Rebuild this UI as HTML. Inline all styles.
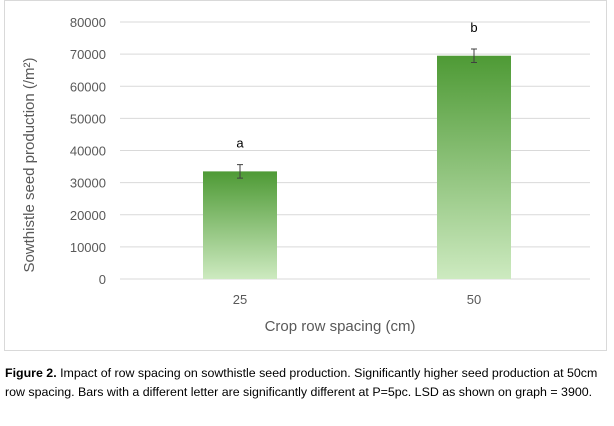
<!DOCTYPE html>
<html><head><meta charset="utf-8"><style>
body{margin:0;background:#fff;width:614px;height:426px;overflow:hidden;font-family:"Liberation Sans",sans-serif}
#cap{position:absolute;left:5px;top:364px;width:606px;font-size:12.4px;line-height:19px;color:#000}
</style></head><body>
<svg width="614" height="426" style="position:absolute;left:0;top:0">
<defs><linearGradient id="g" x1="0" y1="0" x2="0" y2="1"><stop offset="0" stop-color="#4e9a35"/><stop offset="1" stop-color="#cdeac0"/></linearGradient></defs>
<rect x="4.5" y="0.5" width="602" height="350" fill="#fff" stroke="#d9d9d9"/>
<g id="grid"></g><g id="bars"></g>
<text x="340" y="331" font-size="15" fill="#595959" text-anchor="middle">Crop row spacing (cm)</text>
<text transform="translate(34,165) rotate(-90)" font-size="15" fill="#595959" text-anchor="middle">Sowthistle seed production (/m²)</text>
</svg>
<div id="cap"><b>Figure 2.</b> Impact of row spacing on sowthistle seed production. Significantly higher seed production at 50cm row spacing. Bars with a different letter are significantly different at P=5pc. LSD as shown on graph = 3900.</div>
<script>
const categories=["25","50"];
const values=[33500,69500];
const errors=[2100,2100];
const letters=["a","b"];
const ticks=[0,10000,20000,30000,40000,50000,60000,70000,80000];
const NS="http://www.w3.org/2000/svg";
const y=v=>279-v/80000*257;
const x=i=>240+i*234;
function mk(t,a,p){const e=document.createElementNS(NS,t);for(const k in a)e.setAttribute(k,a[k]);p.appendChild(e);return e;}
const G=document.getElementById('grid'),B=document.getElementById('bars');
ticks.forEach(t=>{
const l=mk('line',{x1:120,x2:590,y1:y(t),y2:y(t),stroke:'#d9d9d9'},G);


const tx=mk('text',{x:106,y:y(t)+5,'font-size':13,fill:'#595959','text-anchor':'end'},G);tx.textContent=t;


});
categories.forEach((c,i)=>{
const r=mk('rect',{x:x(i)-37,y:y(values[i]),width:74,height:y(0)-y(values[i]),fill:'url(#g)'},B);


const t=y(values[i]+errors[i]),b=y(values[i]-errors[i]),cx=x(i);
const eb=mk('path',{d:`M${cx},${t}V${b}M${cx-3},${t}H${cx+3}M${cx-3},${b}H${cx+3}`,stroke:'#404040',fill:'none'},B);


const lt=mk('text',{x:cx,y:t-17,'font-size':13,fill:'#000','text-anchor':'middle'},B);lt.textContent=letters[i];


const xt=mk('text',{x:cx,y:304,'font-size':13,fill:'#595959','text-anchor':'middle'},B);xt.textContent=c;


});
</script>
</body></html>
